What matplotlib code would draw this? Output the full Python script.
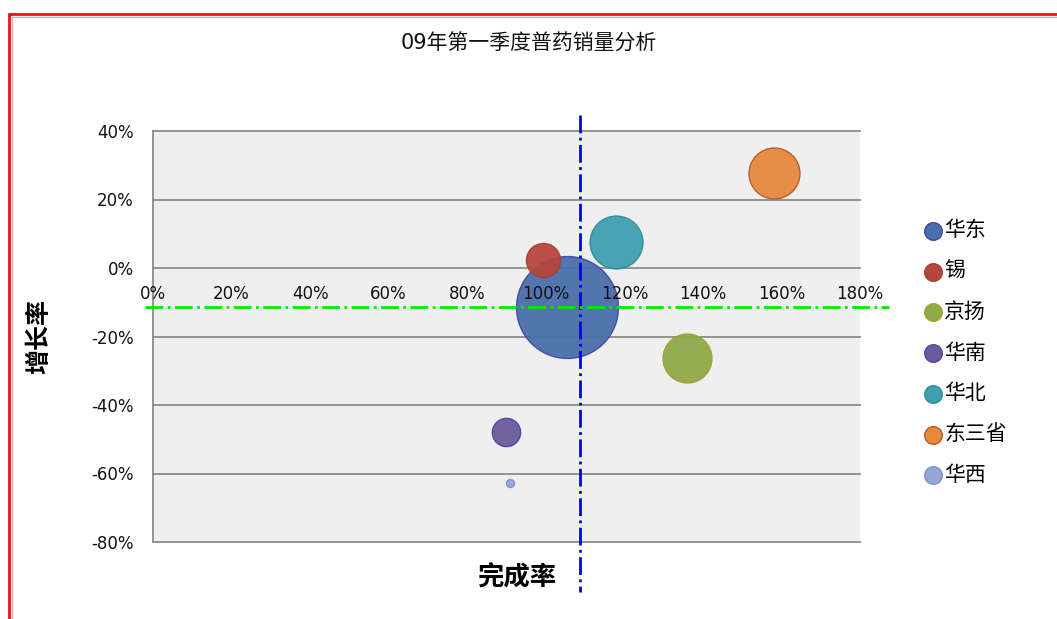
import matplotlib
matplotlib.use('Agg')
import matplotlib.pyplot as plt
from matplotlib.patches import Rectangle
from matplotlib.ticker import FuncFormatter, MultipleLocator

plt.rcParams['font.family'] = ['DejaVu Sans', 'Noto Sans CJK SC']
plt.rcParams['axes.unicode_minus'] = False
CJK = ['Noto Sans CJK SC', 'DejaVu Sans']

# ---------------------------------------------------------------------------
# Data (percent units)
# ---------------------------------------------------------------------------
regions = ['华东', '锡', '京扬', '华南', '华北', '东三省', '华西']
completion = [105.3, 99.2, 135.9, 89.8, 118.0, 158.0, 90.8]    # 完成率 %
growth = [-11.4, 2.3, -26.3, -47.9, 7.6, 27.7, -62.8]           # 增长率 %
volume = [2600, 290, 600, 200, 700, 650, 16]                    # bubble size
avg_completion = 108.7
avg_growth = -11.4
y_ticks = [40, 20, 0, -20, -40, -60, -80]

colors = ['#4a6fab', '#b5463f', '#8faa48', '#6c5a9c', '#3f9fb2', '#e8883f', '#95a7d3']
edges = ['#4346a8', '#a3402f', '#a8a030', '#4b46a8', '#2e8f98', '#b8582a', '#7f8fd0']

fig = plt.figure(figsize=(10.57, 6.19), dpi=100)
ax = fig.add_axes([153 / 1057, 1 - 542 / 619, 707 / 1057, 411 / 619])
ax.set_facecolor('#efefef')

for yt in y_ticks:
    ax.axhline(yt, color='#8c8c8c', linewidth=1.3, zorder=1, clip_on=False)

for name, x, y, v, c, e in zip(regions, completion, growth, volume, colors, edges):
    ax.scatter(x, y, s=v * 2.07, color=c, edgecolors=e, linewidths=1.0,
               alpha=0.95, zorder=3, label=name)

ax.set_xlim(0, 180)
ax.set_ylim(-80, 40)
ax.xaxis.set_major_locator(MultipleLocator(20))
ax.set_yticks(y_ticks)
pct = FuncFormatter(lambda v, _: f'{v:.0f}%')
ax.xaxis.set_major_formatter(pct)
ax.yaxis.set_major_formatter(pct)

ax.spines['bottom'].set_position(('data', 0))
ax.spines['bottom'].set_visible(False)
ax.spines['top'].set_visible(False)
ax.spines['right'].set_visible(False)
ax.spines['left'].set_color('#8c8c8c')
ax.spines['left'].set_linewidth(1.3)
ax.xaxis.set_zorder(5)
ax.tick_params(axis='x', length=0, pad=12, labelsize=12, colors='#111111')
ax.tick_params(axis='y', length=0, pad=14, labelsize=12, colors='#111111')

# reference lines (drawn past the plot area like the original)
ax.plot([avg_completion, avg_completion], [44.7, -94.6], color='#0000ff',
        linestyle='-.', linewidth=2, clip_on=False, zorder=4)
ax.plot([-2, 187.5], [avg_growth, avg_growth], color='#00ee00',
        linestyle='-.', linewidth=2, clip_on=False, zorder=4)

fig.text(529 / 1057, 1 - 44 / 619, '09年第一季度普药销量分析', ha='center',
         va='center', fontsize=15, color='#111111')
fig.text(517 / 1057, 1 - 577 / 619, '完成率', ha='center', va='center',
         fontsize=19, fontweight='bold', family=CJK)
fig.text(39 / 1057, 1 - 337 / 619, '增长率', ha='center', va='center',
         fontsize=18, fontweight='bold', rotation=90, family=CJK)

leg = ax.legend(loc='upper left', bbox_to_anchor=(914 / 1057, 1 - 211 / 619),
                bbox_transform=fig.transFigure, frameon=False,
                prop={'family': CJK, 'size': 15},
                handletextpad=0.05, labelspacing=0.9, borderaxespad=0,
                handlelength=1.0, markerscale=1)
for h in leg.legend_handles:
    h.set_sizes([160])
    h.set_alpha(1)

# red outer frame
fig.patches.append(Rectangle((9 / 1057, -0.1), 1.2, 1 - 14 / 619 + 0.1,
                             transform=fig.transFigure, fill=False,
                             edgecolor='#ee1111', linewidth=2))
fig.patches.append(Rectangle((12 / 1057, -0.1), 1.2, 1 - 17 / 619 + 0.1,
                             transform=fig.transFigure, fill=False,
                             edgecolor='#bbbbbb', linewidth=1))

fig.savefig('out.png', dpi=100)
